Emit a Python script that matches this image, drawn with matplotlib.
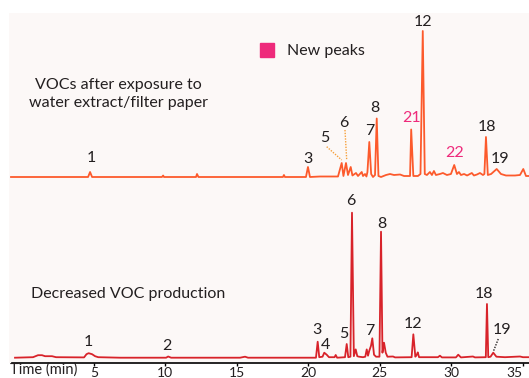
import matplotlib
matplotlib.use("Agg")
import matplotlib.pyplot as plt
from matplotlib.patches import Rectangle

plt.rcParams['font.family'] = ['Lato', 'DejaVu Sans']

# retention time (min) and signal (arbitrary units)
# top trace: VOCs after exposure to water extract / filter paper
top_time = [-0.80, 4.59, 4.73, 4.87, 9.76, 9.84, 9.90, 12.14, 12.21, 12.31,
            18.22, 18.29, 18.36, 19.83, 19.97, 20.11, 20.81, 22.07, 22.33, 22.45,
            22.63, 22.77, 22.96, 23.08, 23.33, 23.47, 23.73, 23.82, 23.96, 24.06,
            24.13, 24.26, 24.39, 24.52, 24.66, 24.78, 24.90, 25.08, 25.43, 25.71,
            25.99, 26.41, 26.69, 27.11, 27.19, 27.34, 27.66, 27.84, 28.00, 28.14,
            28.29, 28.50, 28.64, 28.78, 28.92, 29.20, 29.41, 29.69, 29.97, 30.20,
            30.39, 30.53, 30.67, 30.89, 31.10, 31.43, 31.58, 31.79, 32.00, 32.21,
            32.31, 32.42, 32.55, 32.78, 33.17, 33.47, 33.82, 34.45, 34.80, 35.03,
            35.22, 35.43]
top_signal = [0, 0, 5, 0, 0, 1.5, 0, 0, 3, 0,
              0, 2, 0, 0, 10, 0, 0.5, 0.5, 14, 1,
              14, 2, 10, 1.5, 4, 1, 5, 1, 3, 0.5,
              5, 35, 3, 0, 2, 58.5, 1, 0, 2, 3,
              2, 2.5, 1, 1, 47.5, 1, 1, 3, 146, 3,
              2, 5, 2, 6, 2, 3, 4, 2, 3, 12,
              3, 5, 2, 3, 1.5, 4, 1.5, 2.5, 4, 2,
              3, 40, 2, 3, 8, 3, 1.5, 1.5, 2, 8,
              1, 1]

# bottom trace: decreased VOC production
bot_time = [-0.52, 0.74, 1.09, 1.37, 1.58, 2.07, 2.35, 4.31, 4.48, 4.63,
            4.87, 5.08, 5.30, 6.83, 10.05, 10.19, 10.40, 15.22, 15.57, 15.78,
            20.53, 20.65, 20.76, 20.99, 21.11, 21.28, 21.44, 21.83, 21.91, 22.01,
            22.56, 22.68, 22.79, 22.94, 23.05, 23.18, 23.31, 23.42, 23.54, 23.82,
            23.98, 24.08, 24.17, 24.26, 24.38, 24.47, 24.59, 24.73, 24.97, 25.08,
            25.18, 25.29, 25.41, 25.53, 25.92, 26.06, 27.22, 27.34, 27.48, 27.58,
            27.65, 27.74, 29.06, 29.20, 29.34, 30.32, 30.48, 30.67, 31.51, 31.65,
            32.41, 32.49, 32.58, 32.74, 32.93, 33.15, 33.75, 34.80, 35.01, 35.43]
bot_signal = [0, 0.5, 2.5, 2.5, 1.5, 1.5, 0.5, 0.3, 3.5, 4.5,
              3.5, 1.5, 0.5, 0, 0, 1.2, 0, 0, 1, 0,
              0, 16, 0.5, 1, 5, 3, 0.5, 0.5, 2.7, 0,
              0.5, 13.7, 0.5, 1, 145, 1.5, 8.3, 1.5, 1, 0.5,
              1, 8.3, 2, 7, 12, 19.4, 3, 1, 1, 126,
              5, 15, 5, 1, 1.2, 0.3, 0.5, 23.4, 1, 3,
              5.3, 0.5, 0.5, 2, 0.3, 0.3, 3, 0.3, 1.2, 0.3,
              0.5, 53.7, 0.5, 1, 5, 1, 0.5, 1.2, 0.5, 0.5]

# peak numbers: (label, time, height of label)
top_labels = [("1", 4.80, 19), ("3", 19.99, 18), ("5", 21.11, 39.3),
              ("6", 22.51, 53.7), ("7", 24.26, 46), ("8", 24.66, 69.3),
              ("12", 27.99, 155.3), ("18", 32.47, 49.7), ("19", 33.40, 17.7)]
new_labels = [("21", 27.22, 58.7), ("22", 30.20, 24.3)]
bot_labels = [("1", 4.61, 16), ("2", 10.09, 11.7), ("3", 20.62, 27.7),
              ("4", 21.18, 12.7), ("5", 22.49, 23.7), ("6", 22.96, 156.7),
              ("7", 24.26, 27), ("8", 25.17, 133.7), ("12", 27.29, 33.7),
              ("18", 32.28, 63.7), ("19", 33.52, 27.7)]

ticks = [5, 10, 15, 20, 25, 30, 35]

BG = "#fcf8f7"
TOP_COLOR = "#fc5a2c"
BOT_COLOR = "#d8232a"
PINK = "#ee2a7b"
TXT = "#231f20"
XMIN, XMAX = -0.94, 35.43

fig = plt.figure(figsize=(5.29, 3.78), dpi=100)
ax_top = fig.add_axes([9 / 529, 1 - 190 / 378, 520 / 529, 177 / 378])
ax_bot = fig.add_axes([9 / 529, 1 - 363 / 378, 520 / 529, 173 / 378])

for ax in (ax_top, ax_bot):
    ax.set_facecolor(BG)
    ax.set_xlim(XMIN, XMAX)
    for s in ax.spines.values():
        s.set_visible(False)
    ax.set_yticks([])

ax_top.set_xticks([])
ax_top.set_ylim(-13, 164)
ax_bot.set_ylim(-5.3, 167.7)

ax_top.plot(top_time, top_signal, color=TOP_COLOR, lw=1.3)
ax_bot.plot(bot_time, bot_signal, color=BOT_COLOR, lw=1.3)

for lab, t, h in top_labels:
    ax_top.text(t, h, lab, ha="center", va="center", fontsize=11.5, color=TXT)
for lab, t, h in new_labels:
    ax_top.text(t, h, lab, ha="center", va="center", fontsize=11.5, color=PINK)
for lab, t, h in bot_labels:
    ax_bot.text(t, h, lab, ha="center", va="center", fontsize=11.5, color=TXT)

# leader lines
ax_top.plot([21.28, 22.33], [30.3, 17], ls=(0, (1, 1)), color="#f7a03a", lw=1)
ax_top.plot([22.56, 22.68], [47, 17], ls=(0, (1, 1)), color="#f7a03a", lw=1)
ax_bot.plot([33.28, 32.93], [18.7, 6], ls=(0, (1, 1)), color=TXT, lw=1)

# x axis
ax_bot.spines["bottom"].set_visible(True)
ax_bot.spines["bottom"].set_linewidth(1.2)
ax_bot.spines["bottom"].set_bounds(-0.73, XMAX)
ax_bot.set_xticks(ticks)
ax_bot.tick_params(axis="x", length=2.5, width=1, pad=0.5, labelsize=10,
                   labelcolor=TXT)
ax_bot.get_xticklabels()[-1].set_ha("right")
fig.text(10 / 529, 1 - 370 / 378, "Time (min)", ha="left", va="center",
         fontsize=10.5, color=TXT)

fig.text(118.5 / 529, 1 - 94 / 378, "VOCs after exposure to\nwater extract/filter paper",
         ha="center", va="center", fontsize=11.5, color=TXT, linespacing=1.45)
fig.text(31 / 529, 1 - 294 / 378, "Decreased VOC production", ha="left", va="center",
         fontsize=11.5, color=TXT)

fig.patches.append(Rectangle((260 / 529, 1 - 57 / 378), 14 / 529, 14 / 378,
                             transform=fig.transFigure, color=PINK))
fig.text(287 / 529, 1 - 51 / 378, "New peaks", ha="left", va="center",
         fontsize=11.5, color=TXT)

fig.savefig("out.png", dpi=100)
